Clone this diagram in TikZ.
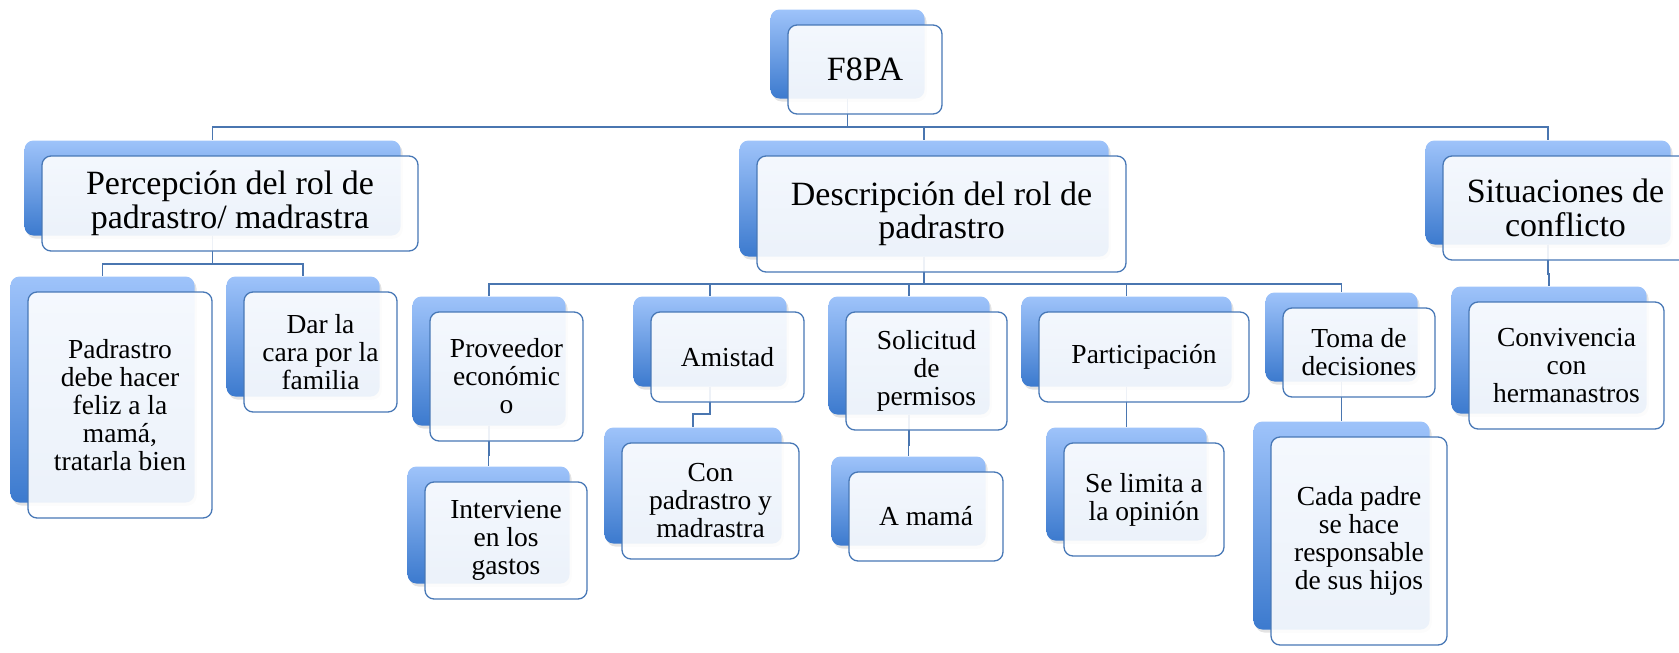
\documentclass[tikz,border=0pt]{standalone}
\usepackage{fontspec}
\setmainfont{Liberation Serif}
\usetikzlibrary{shadows}
\pgfdeclarelayer{bg}
\pgfsetlayers{bg,main}
\definecolor{linec}{RGB}{74,118,176}
\definecolor{framec}{RGB}{72,120,182}
\definecolor{backtop}{RGB}{158,195,250}
\definecolor{backbot}{RGB}{60,122,206}
\tikzset{
 backbox/.style={rectangle, rounded corners=9pt, inner sep=0pt, top color=backtop, bottom color=backbot, draw=none,
   drop shadow={opacity=0.22, shadow xshift=2pt, shadow yshift=-3pt}},
 frontbox/.style={rectangle, rounded corners=9pt, inner sep=0pt, draw=framec, line width=1.3pt, fill=white,
   fill opacity=0.9, text opacity=1, align=center, text=black},
 lvF/.style={font=\fontsize{34}{35}\selectfont},
 lvA/.style={font=\fontsize{34}{33.5}\selectfont},
 lvB/.style={font=\fontsize{27.5}{28}\selectfont},
 conn/.style={draw=linec, line width=1.6pt},
}
\newcommand\smbox[7]{%
 \node[backbox, minimum width=#4pt, minimum height=#5pt] (#1B) at (#2-17.5,#3-15.5) {};
 \node[frontbox, #6, minimum width=#4pt, minimum height=#5pt] (#1) at (#2,#3) {#7};
}
\newcommand\linkbox[3]{\draw[conn] (#1B.south) -- (#1B.south |- #3) -| (#2B.north);}
\begin{document}
\begin{tikzpicture}[x=1pt,y=-1pt]
\useasboundingbox (0,0) rectangle (1679,653);
\coordinate (bus0) at (0,127);
\coordinate (bus1) at (0,264);
\coordinate (bus2) at (0,284);
\coordinate (bus3) at (0,414);
\coordinate (busS) at (0,274);
\coordinate (busP) at (0,455);
\coordinate (busM) at (0,445);
\coordinate (busL) at (0,416);
\coordinate (busT) at (0,410);
% level 0
\smbox{F}{865}{69.5}{154}{89}{lvF}{F8PA}
% level 1
\smbox{P}{230}{203.5}{376}{95}{lvA}{Percepción del rol de\\padrastro/ madrastra}
\smbox{D}{941.5}{214}{369}{116}{lvA}{Descripción del rol de\\padrastro}
\smbox{S}{1565.5}{208}{245}{104}{lvA}{Situaciones de\\conflicto}
% level 2
\smbox{pad}{120}{405}{184}{226}{lvB}{Padrastro\\debe hacer\\feliz a la\\mamá,\\tratarla bien}
\smbox{dar}{320.5}{352}{153}{120}{lvB}{Dar la\\cara por la\\familia}
\smbox{prov}{506.5}{376.5}{153}{129}{lvB}{Proveedor\\económic\\o}
\smbox{ami}{727.5}{357}{153}{90}{lvB}{Amistad}
\smbox{sol}{926.5}{371}{161}{118}{lvB}{Solicitud\\de\\permisos}
\smbox{par}{1144}{357}{210}{90}{lvB}{Participación}
\smbox{tom}{1359}{352.5}{152}{89}{lvB}{Toma de\\decisiones}
\smbox{conv}{1566.5}{365.5}{195}{127}{lvB}{Convivencia\\con\\hermanastros}
% level 3
\smbox{int}{506}{540.5}{162}{117}{lvB}{Interviene\\en los\\gastos}
\smbox{con}{710.5}{501}{177}{116}{lvB}{Con\\padrastro y\\madrastra}
\smbox{mam}{926}{516.5}{154}{89}{lvB}{A mamá}
\smbox{lim}{1144}{499.5}{160}{113}{lvB}{Se limita a\\la opinión}
\smbox{cad}{1359}{541}{176}{208}{lvB}{Cada padre\\se hace\\responsable\\de sus hijos}
\begin{pgfonlayer}{bg}
\linkbox{F}{P}{bus0}
\linkbox{F}{D}{bus0}
\linkbox{F}{S}{bus0}
\linkbox{P}{pad}{bus1}
\linkbox{P}{dar}{bus1}
\linkbox{D}{prov}{bus2}
\linkbox{D}{ami}{bus2}
\linkbox{D}{sol}{bus2}
\linkbox{D}{par}{bus2}
\linkbox{D}{tom}{bus2}
\linkbox{S}{conv}{busS}
\linkbox{prov}{int}{busP}
\linkbox{ami}{con}{bus3}
\linkbox{sol}{mam}{busM}
\linkbox{par}{lim}{busL}
\linkbox{tom}{cad}{busT}
\end{pgfonlayer}
\end{tikzpicture}
\end{document}
